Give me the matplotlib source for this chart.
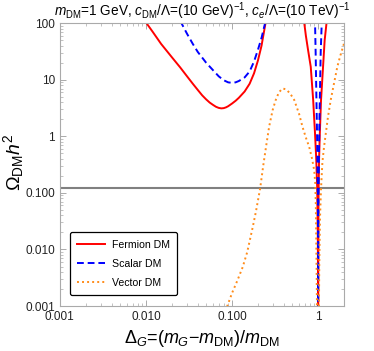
import matplotlib
matplotlib.use("Agg")
import matplotlib.pyplot as plt
from matplotlib.ticker import LogLocator, FixedLocator, FixedFormatter, NullFormatter

plt.rcParams['font.family'] = ['Liberation Sans', 'DejaVu Sans']
plt.rcParams['mathtext.fontset'] = 'custom'
plt.rcParams['mathtext.rm'] = 'Liberation Sans'
plt.rcParams['mathtext.it'] = 'Liberation Sans:italic'

# Fermion DM (red, solid): main dip and the two branches around Delta_G = 1
fermion_a_x = [0.0095, 0.012, 0.015, 0.02, 0.025, 0.03, 0.035, 0.04, 0.045, 0.05, 0.055, 0.06,
               0.065, 0.07, 0.075, 0.08, 0.085, 0.09, 0.1, 0.11, 0.12, 0.14, 0.16, 0.18,
               0.2, 0.22, 0.24, 0.25]
fermion_a_y = [115, 70, 43, 25, 16.5, 11.5, 8.5, 6.6, 5.3, 4.5, 3.95, 3.6,
               3.33, 3.18, 3.12, 3.15, 3.25, 3.4, 3.8, 4.25, 4.8, 6.2, 8.5, 13,
               22, 40, 85, 120]
fermion_b_x = [0.67, 0.69, 0.72, 0.76, 0.82, 0.875, 0.92, 0.95, 0.975, 0.99, 0.997, 0.9995]
fermion_b_y = [130, 100, 60, 35, 17, 4.4, 1.1, 0.4, 0.12, 0.02, 0.003, 0.0005]
fermion_c_x = [1.0005, 1.003, 1.006, 1.012, 1.025, 1.045, 1.08, 1.14, 1.19, 1.25, 1.28]
fermion_c_y = [0.0005, 0.004, 0.025, 0.12, 0.4, 1.1, 4.4, 17, 50, 100, 130]

# Scalar DM (blue, dashed)
scalar_a_x = [0.025, 0.03, 0.035, 0.04, 0.05, 0.06, 0.07, 0.08, 0.09, 0.1, 0.11, 0.12,
              0.14, 0.16, 0.18, 0.2, 0.22, 0.24, 0.25]
scalar_a_y = [110, 65, 43, 31, 20, 14.8, 11.5, 9.8, 9.0, 8.8, 9.0, 9.5,
              11, 14, 21, 34, 55, 95, 125]
scalar_b_x = [0.91, 0.92, 0.935, 0.955, 0.97, 0.98, 0.99, 0.996, 0.9995]
scalar_b_y = [130, 100, 30, 4.4, 1.2, 0.4, 0.08, 0.01, 0.0005]
scalar_c_x = [1.0005, 1.004, 1.01, 1.02, 1.03, 1.045, 1.07, 1.1, 1.11]
scalar_c_y = [0.0005, 0.01, 0.08, 0.4, 1.2, 4.4, 30, 100, 130]

# Vector DM (orange, dotted)
vector_a_x = [0.085, 0.088, 0.1, 0.115, 0.133, 0.15, 0.174, 0.19, 0.212, 0.23, 0.248, 0.27,
              0.296, 0.32, 0.35, 0.386, 0.42, 0.47, 0.527, 0.6, 0.658, 0.72, 0.787, 0.85,
              0.9, 0.925, 0.94, 0.95, 0.96, 0.97]
vector_a_y = [0.0008, 0.001, 0.0017, 0.0028, 0.0049, 0.009, 0.025, 0.048, 0.12, 0.3, 0.65, 1.5,
              2.9, 4.3, 6.0, 7.0, 6.8, 5.8, 4.4, 2.5, 1.47, 0.95, 0.65, 0.4,
              0.25, 0.15, 0.06, 0.015, 0.004, 0.0008]
vector_b_x = [1.02, 1.03, 1.05, 1.08, 1.12, 1.17, 1.25, 1.3, 1.4, 1.5, 1.67, 1.8, 2.0, 2.05]
vector_b_y = [0.0008, 0.005, 0.035, 0.12, 0.35, 0.65, 1.4, 2.2, 4.4, 7.5, 17, 26, 44, 50]

omega_obs = 0.12

x_ticks = [0.001, 0.01, 0.1, 1]
x_labels = ["0.001", "0.010", "0.100", "1"]
y_ticks = [0.001, 0.01, 0.1, 1, 10, 100]
y_labels = ["0.001", "0.010", "0.100", "1", "10", "100"]

fig = plt.figure(figsize=(3.74, 3.51), dpi=100)
ax = fig.add_axes([0.160, 0.128, 0.760, 0.806])

red = "#ff0000"
blue = "#0000ff"
orange = "#ff8c1a"

ax.axhline(omega_obs, color="#808080", lw=1.5, zorder=1)

ax.plot(fermion_a_x, fermion_a_y, color=red, lw=1.4, label="Fermion DM")
ax.plot(fermion_b_x, fermion_b_y, color=red, lw=1.4)
ax.plot(fermion_c_x, fermion_c_y, color=red, lw=1.4)

dash = (0, (3.5, 2))
ax.plot(scalar_a_x, scalar_a_y, color=blue, lw=1.4, ls=dash, label="Scalar DM")
ax.plot(scalar_b_x, scalar_b_y, color=blue, lw=1.4, ls=dash)
ax.plot(scalar_c_x, scalar_c_y, color=blue, lw=1.4, ls=dash)

dot = (0, (1, 1.6))
ax.plot(vector_a_x, vector_a_y, color=orange, lw=1.4, ls=dot, label="Vector DM")
ax.plot(vector_b_x, vector_b_y, color=orange, lw=1.4, ls=dot)

ax.set_xscale("log")
ax.set_yscale("log")
ax.set_xlim(0.001, 2.0)
ax.set_ylim(0.001, 100)

ax.xaxis.set_major_locator(FixedLocator(x_ticks))
ax.xaxis.set_major_formatter(FixedFormatter(x_labels))
ax.yaxis.set_major_locator(FixedLocator(y_ticks))
ax.yaxis.set_major_formatter(FixedFormatter(y_labels))
ax.xaxis.set_minor_locator(LogLocator(base=10, subs=range(2, 10), numticks=20))
ax.yaxis.set_minor_locator(LogLocator(base=10, subs=range(2, 10), numticks=20))
ax.xaxis.set_minor_formatter(NullFormatter())
ax.yaxis.set_minor_formatter(NullFormatter())

frame = "#aaaaaa"
for s in ax.spines.values():
    s.set_color(frame)
    s.set_linewidth(0.8)
ax.tick_params(which="both", direction="in", top=True, right=True, color=frame,
               labelsize=8.5, labelcolor="#222222")
ax.tick_params(which="major", length=4, width=0.7)
ax.tick_params(which="minor", length=2.2, width=0.5)

ax.set_title(r"$m_{\rm DM}$=1 GeV, $c_{\rm DM}/\Lambda$=(10 GeV)$^{-1}$, $c_e/\Lambda$=(10 TeV)$^{-1}$",
             fontsize=9.8, pad=5)
ax.set_xlabel(r"$\Delta_G$=($m_G$$-$$m_{\rm DM}$)/$m_{\rm DM}$", fontsize=13, labelpad=4)
ax.set_ylabel(r"$\Omega_{\rm DM}h^2$", fontsize=14)
ax.yaxis.set_label_coords(-0.12, 0.51)

leg = ax.legend(loc="lower left", bbox_to_anchor=(0.035, 0.039), borderaxespad=0,
                fontsize=7.6, frameon=True, fancybox=True, edgecolor="black", framealpha=1,
                handlelength=2.6, handletextpad=0.7, borderpad=0.7, labelspacing=0.85)
leg.get_frame().set_linewidth(0.9)

fig.savefig("out.png", dpi=100)
